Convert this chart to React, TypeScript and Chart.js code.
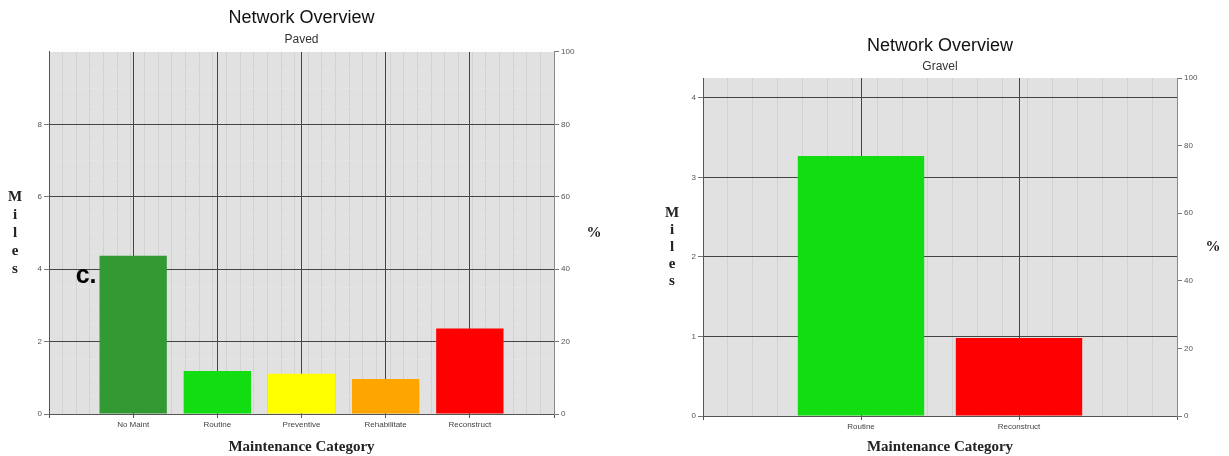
import { useEffect, useRef } from 'react';
import { Chart, registerables } from 'chart.js';

Chart.register(...registerables);

// ---------- data ----------
const chartTitle = 'Network Overview';
const xAxisTitle = 'Maintenance Category';
const leftAxisLabel = 'Miles';
const rightAxisLabel = '%';

const pavedSubtitle = 'Paved';
const pavedCategories = ['No Maint', 'Routine', 'Preventive', 'Rehabilitate', 'Reconstruct'];
const pavedMiles = [4.37, 1.19, 1.11, 0.97, 2.36];
const pavedColors = ['#339933', '#11dd11', '#ffff00', '#ffa500', '#ff0000'];
const pavedMilesMax = 10;
const pavedMilesStep = 2;
const pavedAnnotation = 'c.';
const pavedAnnotationValue = 3.8;

const gravelSubtitle = 'Gravel';
const gravelCategories = ['Routine', 'Reconstruct'];
const gravelMiles = [3.27, 0.98];
const gravelColors = ['#11dd11', '#ff0000'];
const gravelMilesMax = 4.25;
const gravelMilesStep = 1;

const percentMax = 100;
const percentStep = 20;

// ---------- plugins ----------
const plotBackground = {
  id: 'plotBackground',
  beforeDraw(chart: any) {
    const { ctx, chartArea } = chart;
    ctx.save();
    ctx.fillStyle = '#e1e1e1';
    ctx.fillRect(chartArea.left, chartArea.top, chartArea.right - chartArea.left, chartArea.bottom - chartArea.top);
    ctx.restore();
  },
};

const sideLabels = {
  id: 'sideLabels',
  afterDraw(chart: any, _args: any, opts: any) {
    const { ctx, chartArea } = chart;
    const cy = (chartArea.top + chartArea.bottom) / 2;
    ctx.save();
    ctx.fillStyle = '#222';
    ctx.font = 'bold 15px "Liberation Serif", serif';
    ctx.textAlign = 'center';
    ctx.textBaseline = 'middle';
    const letters = leftAxisLabel.split('');
    const n = letters.length;
    letters.forEach((ch, i) => {
      ctx.fillText(ch, chartArea.left - opts.leftOffset, cy + (i - (n - 1) / 2) * opts.spacing);
    });
    ctx.fillText(rightAxisLabel, chartArea.right + opts.rightOffset, cy);
    if (opts.annotation) {
      const xs = chart.scales.x;
      const ys = chart.scales.y;
      const meta = chart.getDatasetMeta(0);
      const bar = meta.data[1];
      const left = bar ? bar.x - bar.width / 2 : xs.getPixelForValue(1);
      ctx.font = 'bold 25px "Liberation Sans", Arial, sans-serif';
      ctx.fillStyle = '#000';
      ctx.textAlign = 'right';
      ctx.fillText(opts.annotation, left - 3, ys.getPixelForValue(opts.annotationValue));
    }
    ctx.restore();
  },
};

type Spec = {
  subtitle: string;
  categories: string[];
  miles: number[];
  colors: string[];
  milesMax: number;
  milesStep: number;
  minorMilesStep: number | null;
  minorXStep: number;
  padTop: number;
  titlePadBottom: number;
  subPadBottom: number;
  leftWidth: number;
  rightWidth: number;
  bottomHeight: number;
  leftOffset: number;
  rightOffset: number;
  spacing: number;
  annotation?: string;
  annotationValue?: number;
};

function buildConfig(s: Spec): any {
  const labels = ['', ...s.categories, ''];
  const values = [null, ...s.miles, null];
  const colors = ['transparent', ...s.colors, 'transparent'];
  const nSlots = labels.length - 1;
  const tickFont = { family: '"Liberation Sans", Arial, sans-serif', size: 8 };
  const isTop = (c: any) => c.tick && c.tick.value >= s.milesMax - 1e-9;
  const scales: any = {
    xMinor: {
      type: 'linear',
      position: 'bottom',
      min: 0,
      max: nSlots,
      display: true,
      ticks: { display: false, stepSize: s.minorXStep },
      grid: { color: '#d2d2d2', lineWidth: 1, drawTicks: false },
      border: { display: false },
      afterFit(scale: any) { scale.height = 0; },
    },
  };
  if (s.minorMilesStep) {
    scales.yMinor = {
      type: 'linear',
      position: 'left',
      min: 0,
      max: s.milesMax,
      display: true,
      ticks: { display: false, stepSize: s.minorMilesStep },
      grid: { color: 'rgba(240,240,240,0.7)', lineWidth: 1, drawTicks: false },
      border: { display: false, dash: [1, 3] },
      afterFit(scale: any) { scale.width = 0; },
    };
  }
  scales.x = {
    type: 'category',
    offset: false,
    grid: { offset: false, color: '#444', lineWidth: 1, tickLength: 4, tickColor: '#555' },
    border: { color: '#555' },
    ticks: { color: '#444', font: tickFont, autoSkip: false, maxRotation: 0, padding: 2 },
    title: {
      display: true,
      text: xAxisTitle,
      color: '#222',
      font: { family: '"Liberation Serif", serif', size: 15, weight: 'bold' },
      padding: { top: 0, bottom: 0 },
    },
    afterFit(scale: any) { scale.height = s.bottomHeight; },
  };
  scales.y = {
    type: 'linear',
    position: 'left',
    min: 0,
    max: s.milesMax,
    ticks: {
      stepSize: s.milesStep,
      includeBounds: false,
      color: '#555',
      font: tickFont,
      padding: 2,
      callback: (v: number) => (v >= s.milesMax - 1e-9 ? '' : String(v)),
    },
    grid: {
      color: (c: any) => (isTop(c) ? 'transparent' : '#444'),
      lineWidth: 1,
      tickLength: 5,
      tickColor: (c: any) => (isTop(c) ? 'transparent' : '#777'),
    },
    border: { color: '#555' },
    afterFit(scale: any) { scale.width = s.leftWidth; },
  };
  scales.y1 = {
    type: 'linear',
    position: 'right',
    min: 0,
    max: percentMax,
    ticks: { stepSize: percentStep, color: '#555', font: tickFont, padding: 2 },
    grid: { drawOnChartArea: false, tickLength: 5, tickColor: '#777' },
    border: { color: '#888' },
    afterFit(scale: any) { scale.width = s.rightWidth; },
  };

  return {
    type: 'bar',
    data: {
      labels,
      datasets: [
        {
          data: values,
          backgroundColor: colors,
          borderWidth: 0,
          barPercentage: 0.8,
          categoryPercentage: 1,
          xAxisID: 'x',
          yAxisID: 'y',
        },
      ],
    },
    options: {
      responsive: false,
      maintainAspectRatio: false,
      animation: false,
      devicePixelRatio: 1,
      layout: { padding: { top: s.padTop, left: 0, right: 0, bottom: 0 } },
      plugins: {
        legend: { display: false },
        tooltip: { enabled: false },
        title: {
          display: true,
          text: chartTitle,
          fullSize: false,
          color: '#111',
          font: { family: '"Liberation Sans", Arial, sans-serif', size: 18, weight: 'normal' },
          padding: { top: 0, bottom: s.titlePadBottom },
        },
        subtitle: {
          display: true,
          text: s.subtitle,
          fullSize: false,
          color: '#333',
          font: { family: '"Liberation Sans", Arial, sans-serif', size: 12, weight: 'normal' },
          padding: { top: 0, bottom: s.subPadBottom },
        },
        sideLabels: {
          leftOffset: s.leftOffset,
          rightOffset: s.rightOffset,
          spacing: s.spacing,
          annotation: s.annotation,
          annotationValue: s.annotationValue,
        },
      },
      scales,
    },
    plugins: [plotBackground, sideLabels],
  };
}

const pavedSpec: Spec = {
  subtitle: pavedSubtitle,
  categories: pavedCategories,
  miles: pavedMiles,
  colors: pavedColors,
  milesMax: pavedMilesMax,
  milesStep: pavedMilesStep,
  minorMilesStep: 0.5,
  minorXStep: 1 / 6,
  padTop: 7,
  titlePadBottom: 4,
  subPadBottom: 5,
  leftWidth: 49,
  rightWidth: 61,
  bottomHeight: 42,
  leftOffset: 34,
  rightOffset: 40,
  spacing: 18,
  annotation: pavedAnnotation,
  annotationValue: pavedAnnotationValue,
};

const gravelSpec: Spec = {
  subtitle: gravelSubtitle,
  categories: gravelCategories,
  miles: gravelMiles,
  colors: gravelColors,
  milesMax: gravelMilesMax,
  milesStep: gravelMilesStep,
  minorMilesStep: null,
  minorXStep: 1 / 6,
  padTop: 35,
  titlePadBottom: 3,
  subPadBottom: 4,
  leftWidth: 88,
  rightWidth: 52,
  bottomHeight: 40,
  leftOffset: 31,
  rightOffset: 36,
  spacing: 17,
};

function BarPanel({ spec, width, height }: { spec: Spec; width: number; height: number }) {
  const ref = useRef<HTMLCanvasElement | null>(null);
  useEffect(() => {
    if (!ref.current) return;
    const chart = new Chart(ref.current, buildConfig(spec));
    return () => chart.destroy();
  }, [spec]);
  return <canvas ref={ref} width={width} height={height} style={{ width, height, display: 'block' }} />;
}

export default function App() {
  return (
    <div style={{ position: 'fixed', left: 0, top: 0, width: 1229, height: 456, background: '#fff', overflow: 'hidden' }}>
      <div style={{ position: 'absolute', left: 0, top: 0 }}>
        <BarPanel spec={pavedSpec} width={615} height={456} />
      </div>
      <div style={{ position: 'absolute', left: 615, top: 0 }}>
        <BarPanel spec={gravelSpec} width={614} height={456} />
      </div>
    </div>
  );
}
